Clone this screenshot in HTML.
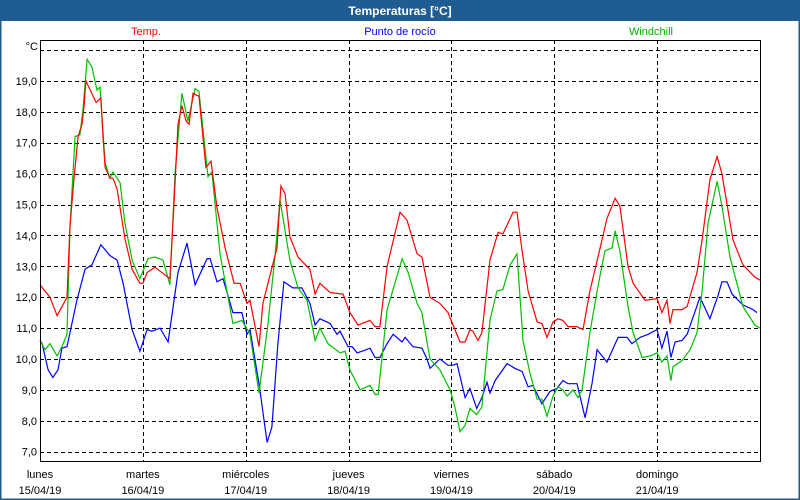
<!DOCTYPE html>
<html><head><meta charset="utf-8"><style>
body{margin:0;width:800px;height:500px;overflow:hidden;background:#fff;font-family:"Liberation Sans",sans-serif}
</style></head><body>
<svg width="800" height="500" style="position:absolute;left:0;top:0">
<rect x="0" y="0" width="800" height="500" fill="#fff"/>
<rect x="0.5" y="0.5" width="799" height="499" fill="none" stroke="#1e5b8e" stroke-width="2"/>
<rect x="0" y="0" width="800" height="21" fill="#1f5c91"/>
<text x="400" y="15" text-anchor="middle" font-size="12" font-weight="bold" fill="#fff">Temperaturas [°C]</text>
<text x="146" y="35" text-anchor="middle" font-size="11" fill="#ff0000">Temp.</text>
<text x="400" y="35" text-anchor="middle" font-size="11" fill="#0000ff">Punto de rocío</text>
<text x="651" y="35" text-anchor="middle" font-size="11" fill="#00b000">Windchill</text>
<text x="38" y="50" text-anchor="end" font-size="11" fill="#000">°C</text>
<g id="grid"></g>
<g id="series"></g>
<rect x="40.5" y="40.5" width="720" height="421" fill="none" stroke="#000" stroke-width="1"/>
<g id="labels"></g>
</svg>
<script>
const yTicks=[19,18,17,16,15,14,13,12,11,10,9,8,7];
const yGrid=[20,19,18,17,16,15,14,13,12,11,10,9,8,7];
const dayNames=["lunes","martes","miércoles","jueves","viernes","sábado","domingo"];
const dayDates=["15/04/19","16/04/19","17/04/19","18/04/19","19/04/19","20/04/19","21/04/19"];

const tempH=[0,2.3,4.0,6.3,7.0,7.9,8.9,9.8,10.3,10.7,13.1,14.2,14.7,15.2,16.3,17.0,18.0,19.8,21.5,23.3,24.0,25.0,26.8,30.3,31.3,32.2,33.1,34.1,34.8,35.7,37.1,38.7,39.9,41.3,43.2,45.3,46.7,48.3,49.0,51.1,52.0,55.3,56.2,57.2,58.3,60.2,63.0,64.2,65.3,67.7,70.7,72.3,74.2,77.0,78.2,79.3,81.0,84.0,85.6,88.0,89.1,91.0,93.3,95.2,98.0,99.2,100.3,101.0,102.2,103.1,105.0,106.9,108.0,110.4,111.3,112.5,113.9,116.0,117.1,118.3,119.7,120.9,122.0,123.2,125.3,126.7,128.3,130.2,132.3,134.2,135.3,137.2,138.4,141.2,144.0,145.1,146.3,147.0,147.7,149.8,151.0,153.3,154.5,156.3,158.0,159.1,161.7,164.0,166.8,168.0];
const tempV=[12.4,12.0,11.4,12.0,14.3,15.8,17.2,17.6,18.2,19.0,18.3,18.45,17.2,16.2,15.85,15.85,15.5,13.9,12.9,12.45,12.45,12.8,12.97,12.6,15.1,17.6,18.2,17.7,17.6,18.6,18.5,16.2,16.4,14.9,13.6,12.45,12.45,11.8,11.9,10.4,11.8,13.6,15.6,15.35,13.95,13.3,12.9,12.1,12.45,12.15,12.1,11.5,11.1,11.25,11.05,11.05,13.0,14.75,14.5,13.4,13.3,12.0,11.8,11.5,10.55,10.55,10.95,10.9,10.6,10.85,13.2,14.1,14.05,14.75,14.75,13.5,12.2,11.2,11.15,10.7,11.2,11.3,11.25,11.05,11.05,10.95,12.2,13.3,14.55,15.2,14.95,13.0,12.45,11.9,11.95,11.5,11.9,11.15,11.6,11.6,11.7,12.8,13.85,15.8,16.55,16.0,13.85,13.05,12.65,12.55];

const chillH=[0,1.2,2.3,4.0,5.1,6.3,7.0,8.2,9.3,10.0,11.0,12.1,13.3,14.0,15.2,16.3,17.0,18.7,19.8,21.5,23.3,25.2,26.8,28.7,30.3,31.5,33.1,34.5,36.2,37.1,39.2,40.1,42.0,45.0,47.1,49.0,51.1,53.2,54.8,56.0,58.3,60.2,62.3,64.2,65.3,67.2,70.0,71.2,72.3,74.7,77.0,78.2,78.9,81.0,84.5,85.9,88.0,89.1,91.0,93.3,95.7,96.8,98.0,99.2,100.3,101.9,103.1,105.0,106.6,108.0,109.7,111.3,112.7,114.3,116.0,117.1,118.3,119.7,120.9,122.0,123.0,124.4,125.5,126.5,128.3,130.0,131.8,133.5,134.2,135.3,137.2,138.4,140.5,142.4,144.0,145.1,146.3,147.2,147.7,149.8,151.7,153.3,154.5,155.9,158.0,159.1,161.0,164.0,166.8,168.0];
const chillV=[10.6,10.3,10.5,10.1,10.4,10.8,14.3,17.2,17.25,18.05,19.7,19.45,18.7,18.8,16.35,15.85,16.05,15.7,14.4,13.2,12.6,13.25,13.3,13.2,12.4,16.0,18.6,17.7,18.75,18.65,15.9,16.05,13.4,11.15,11.25,10.8,8.9,11.15,13.3,15.15,13.2,12.3,11.9,10.6,11.0,10.5,10.2,10.25,9.65,9.0,9.15,8.85,8.85,11.6,13.25,12.8,11.8,11.5,10.0,9.65,9.0,8.45,7.65,7.85,8.4,8.2,8.45,11.25,12.2,12.25,13.05,13.4,10.6,9.55,8.7,8.7,8.15,8.8,9.1,9.0,8.8,9.0,8.75,9.0,10.85,12.2,13.5,13.6,14.15,13.5,11.7,10.85,10.05,10.1,10.2,9.9,10.1,9.3,9.75,9.95,10.3,10.85,12.2,14.4,15.75,14.95,13.3,11.7,11.1,11.0];

const dewH=[0,0.5,1.9,3.0,4.2,5.1,6.3,8.6,10.5,12.1,14.2,16.3,18.0,19.4,21.5,23.3,25.0,26.1,28.0,29.9,32.2,34.3,36.2,39.0,39.7,41.3,42.7,45.0,47.1,48.3,49.0,51.1,53.0,54.1,55.5,56.9,59.0,61.1,63.0,64.2,65.3,67.7,69.3,70.0,71.9,72.8,74.0,75.1,77.0,78.2,79.3,81.0,82.4,84.5,85.2,87.0,89.1,90.3,91.0,93.3,95.2,96.4,97.3,99.2,100.3,101.9,103.1,104.3,105.0,106.2,109.0,110.8,112.5,113.9,115.0,117.1,119.0,120.6,122.0,123.2,125.3,127.2,128.8,130.0,132.3,134.9,137.0,138.1,140.0,141.9,144.0,145.1,146.3,147.2,148.2,149.8,151.0,154.0,156.3,158.2,159.1,160.3,161.5,164.0,166.4,167.3];
const dewV=[10.6,10.5,9.65,9.4,9.65,10.35,10.4,11.9,12.9,13.05,13.7,13.35,13.2,12.45,10.95,10.25,10.95,10.9,11.0,10.55,12.8,13.75,12.4,13.25,13.25,12.5,12.6,11.5,11.5,10.8,10.95,9.2,7.3,7.8,10.5,12.5,12.3,12.3,11.8,11.1,11.3,11.15,10.8,10.9,10.4,10.4,10.2,10.25,10.35,10.05,10.05,10.5,10.8,10.55,10.7,10.4,10.35,10.0,9.7,10.0,9.8,9.8,9.85,8.75,9.05,8.4,8.75,9.25,8.9,9.3,9.85,9.7,9.6,9.1,9.15,8.55,8.95,9.05,9.3,9.2,9.2,8.1,9.2,10.3,9.9,10.7,10.7,10.5,10.7,10.8,10.95,10.35,10.9,10.05,10.55,10.6,10.8,12.0,11.3,12.05,12.5,12.5,12.1,11.75,11.6,11.5];

const X0=40,X1=760,Y20=50,PXU=30.9;
function xs(h){return X0+h*(X1-X0)/168;}
function ys(v){return Y20+(20-v)*PXU;}
const NS="http://www.w3.org/2000/svg";
const grid=document.getElementById('grid'),series=document.getElementById('series'),labels=document.getElementById('labels');
yGrid.forEach(v=>{
  const l=document.createElementNS(NS,'line');
  const y=Math.round(ys(v))+0.5;
  l.setAttribute('x1',X0);l.setAttribute('x2',X1);l.setAttribute('y1',y);l.setAttribute('y2',y);
  l.setAttribute('stroke','#000');l.setAttribute('stroke-dasharray','4,3');
  
  
  grid.appendChild(l);
});
yTicks.forEach(v=>{
  const t=document.createElementNS(NS,'text');
  t.setAttribute('x',37);t.setAttribute('y',ys(v)+4);t.setAttribute('text-anchor','end');t.setAttribute('font-size','11');
  t.textContent=v.toFixed(1).replace('.',',');
  
  
  labels.appendChild(t);
});
dayNames.forEach((d,i)=>{
  const x=xs(i*24);
  if(i>0){
    const l=document.createElementNS(NS,'line');
    const xx=Math.round(x)+0.5;
    l.setAttribute('x1',xx);l.setAttribute('x2',xx);l.setAttribute('y1',40);l.setAttribute('y2',461);
    l.setAttribute('stroke','#000');l.setAttribute('stroke-dasharray','4,3');
    
    
    grid.appendChild(l);
  }
  const t=document.createElementNS(NS,'text');
  t.setAttribute('x',x);t.setAttribute('y',478);t.setAttribute('text-anchor','middle');t.setAttribute('font-size','11');
  t.textContent=d;
  
  
  labels.appendChild(t);
  const t2=document.createElementNS(NS,'text');
  t2.setAttribute('x',x);t2.setAttribute('y',494);t2.setAttribute('text-anchor','middle');t2.setAttribute('font-size','11');
  t2.textContent=dayDates[i];
  
  
  labels.appendChild(t2);
});
function draw(H,V,color,name){
  const p=document.createElementNS(NS,'polyline');
  p.setAttribute('points',H.map((h,i)=>xs(h).toFixed(1)+','+ys(V[i]).toFixed(1)).join(' '));
  p.setAttribute('fill','none');p.setAttribute('stroke',color);p.setAttribute('stroke-width','1.2');
  
  
  series.appendChild(p);
}
draw(dewH,dewV,'#0000ff','dew-point-line');
draw(chillH,chillV,'#00c000','windchill-line');
draw(tempH,tempV,'#ff0000','temp-line');
</script>
</body></html>
